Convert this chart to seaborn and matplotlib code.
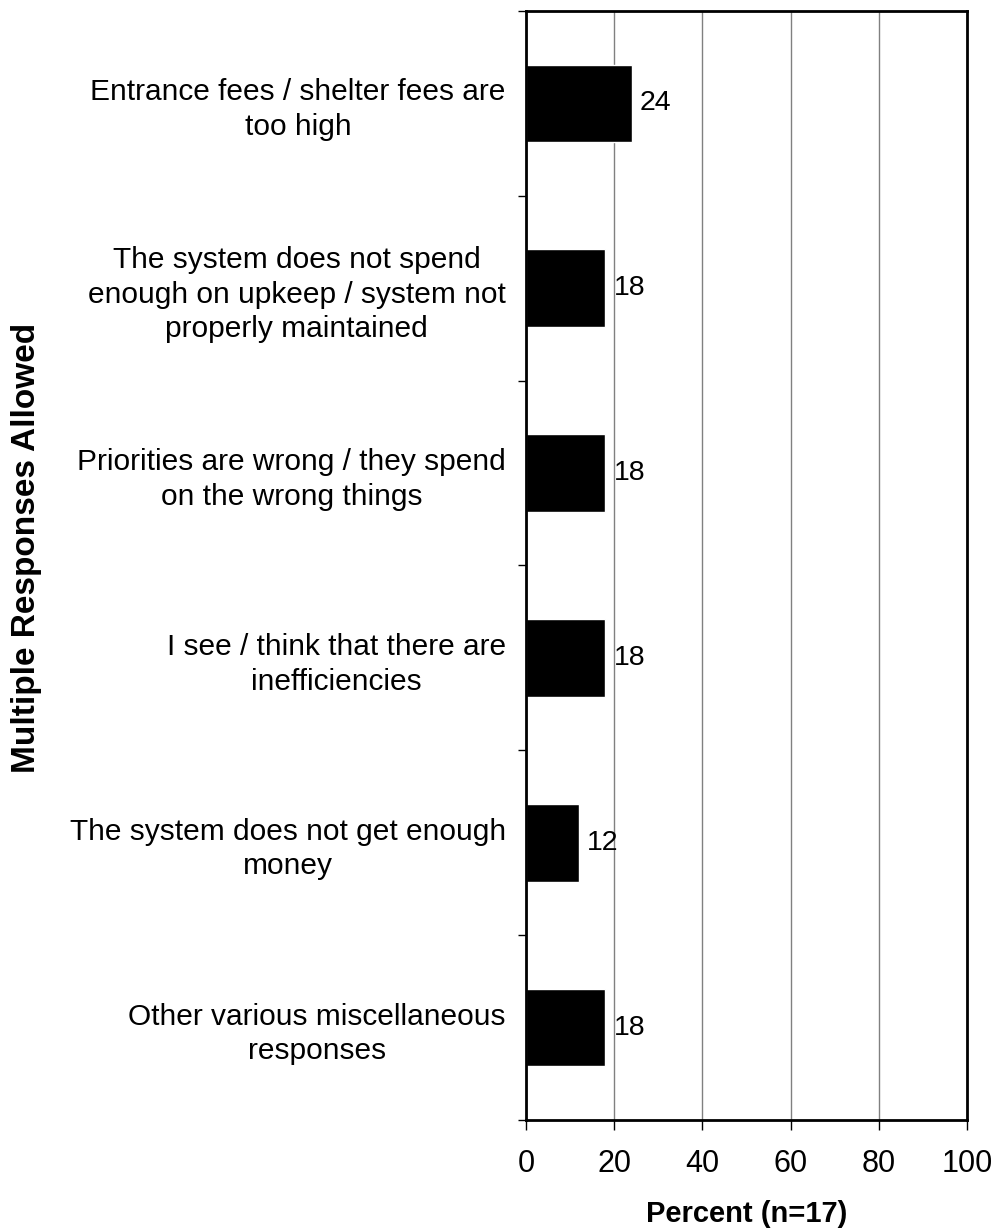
import pandas as pd
import seaborn as sns
import matplotlib.pyplot as plt
from matplotlib.ticker import FixedLocator, MultipleLocator

# Survey responses (percent of respondents, multiple responses allowed)
categories = [
    'Entrance fees / shelter fees are\ntoo high',
    'The system does not spend\nenough on upkeep / system not\nproperly maintained',
    'Priorities are wrong / they spend\non the wrong things',
    'I see / think that there are\ninefficiencies',
    'The system does not get enough\nmoney',
    'Other various miscellaneous\nresponses',
]
percents = [24, 18, 18, 18, 12, 18]

df = pd.DataFrame({'Response': categories, 'Percent': percents})

sns.set_style('white')
plt.rcParams['font.family'] = ['Liberation Sans', 'DejaVu Sans']
plt.rcParams['text.color'] = 'black'
plt.rcParams['axes.labelcolor'] = 'black'
plt.rcParams['xtick.color'] = 'black'
plt.rcParams['ytick.color'] = 'black'

fig = plt.figure(figsize=(9.94, 12.28), dpi=100)
ax = fig.add_axes([0.529, 0.088, 0.444, 0.903])

sns.barplot(
    data=df,
    x='Percent',
    y='Response',
    orient='h',
    color='black',
    width=0.42,
    saturation=1,
    ax=ax
)

for container in ax.containers:
    ax.bar_label(container, padding=6, fontsize=20.5)

ax.set_xlim(0, 100)
ax.set_ylim(len(categories) - 0.5, -0.5)
ax.xaxis.set_major_locator(MultipleLocator(20))
ax.grid(axis='x', color='#808080', linewidth=1)
ax.set_axisbelow(True)

# ticks between categories, labels at centres
ax.yaxis.set_minor_locator(FixedLocator([i - 0.5 for i in range(len(categories) + 1)]))
ax.tick_params(axis='y', which='major', length=0, pad=14.5, labelsize=21.5)
ax.tick_params(axis='y', which='minor', left=True, length=6, width=1, color='black')
ax.tick_params(axis='x', which='major', bottom=True, length=7, width=1, color='black',
               pad=14, labelsize=22)
for lbl in ax.get_yticklabels():
    lbl.set_multialignment('center')
    lbl.set_linespacing(1.3)

for spine in ax.spines.values():
    spine.set_color('black')
    spine.set_linewidth(2)

ax.set_xlabel('Percent (n=17)', fontsize=21, fontweight='bold', labelpad=15)
ax.set_ylabel('Multiple Responses Allowed', fontsize=24, fontweight='bold')
ax.yaxis.set_label_coords(-1.096, 0.516)

fig.savefig('out.png', dpi=100)
